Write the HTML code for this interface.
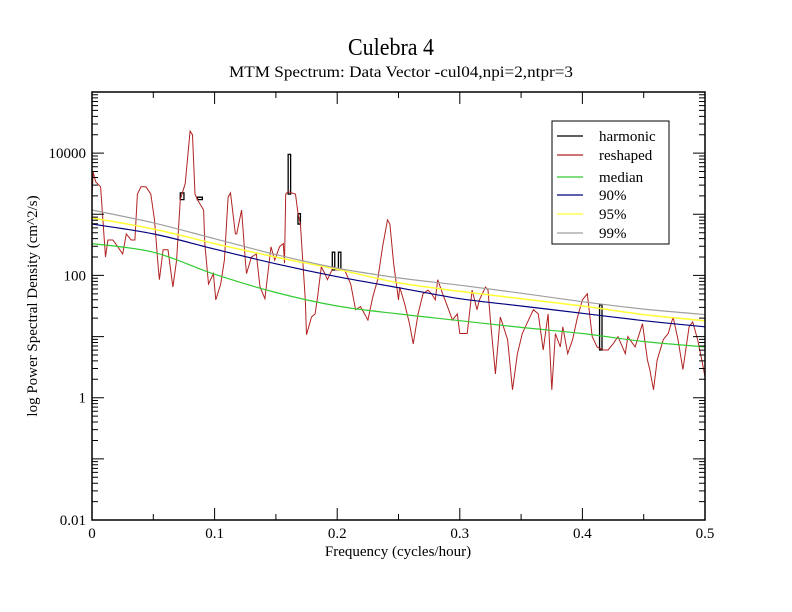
<!DOCTYPE html>
<html><head><meta charset="utf-8"><style>
body{margin:0;background:#fff;}
svg{display:block;font-family:"Liberation Serif",serif;}
</style></head><body>
<svg id="chart" width="792" height="612" viewBox="0 0 792 612">
<rect x="0" y="0" width="792" height="612" fill="#fff"/>
<text x="391" y="55" font-size="24" text-anchor="middle" textLength="86" lengthAdjust="spacingAndGlyphs">Culebra 4</text>
<text x="401" y="77" font-size="16" text-anchor="middle" textLength="344" lengthAdjust="spacingAndGlyphs">MTM Spectrum: Data Vector -cul04,npi=2,ntpr=3</text>
<text x="398" y="556" font-size="15" text-anchor="middle">Frequency (cycles/hour)</text>
<text x="37" y="306" font-size="15" text-anchor="middle" transform="rotate(-90 37 306)">log Power Spectral Density (cm^2/s)</text>
<g id="plot"></g>
<g id="axes"></g>
<g id="legend">
<rect x="552" y="121" width="117" height="123" fill="#fff" stroke="#000" stroke-width="1"/>
</g>
</svg>
<script>
// ---- data ----
const freq = [0.000,0.001,0.003,0.007,0.011,0.013,0.017,0.021,0.025,0.028,0.032,0.035,0.037,0.040,0.044,0.048,0.051,0.054,0.055,0.058,0.062,0.066,0.069,0.072,0.076,0.080,0.082,0.084,0.086,0.091,0.092,0.095,0.099,0.101,0.105,0.108,0.111,0.113,0.117,0.118,0.122,0.125,0.126,0.130,0.134,0.137,0.141,0.146,0.149,0.153,0.156,0.157,0.158,0.160,0.166,0.168,0.170,0.174,0.175,0.179,0.182,0.184,0.187,0.190,0.192,0.197,0.199,0.206,0.211,0.215,0.219,0.225,0.229,0.233,0.237,0.241,0.243,0.246,0.250,0.251,0.255,0.259,0.262,0.266,0.270,0.274,0.277,0.280,0.282,0.286,0.290,0.294,0.298,0.300,0.306,0.310,0.314,0.316,0.321,0.323,0.325,0.329,0.333,0.339,0.343,0.347,0.351,0.356,0.360,0.364,0.368,0.372,0.375,0.378,0.382,0.384,0.388,0.392,0.396,0.400,0.404,0.408,0.412,0.417,0.421,0.425,0.429,0.435,0.437,0.443,0.449,0.453,0.455,0.458,0.461,0.466,0.470,0.474,0.478,0.482,0.487,0.490,0.494,0.498,0.500];
const logReshaped = [3.30,3.69,3.53,3.45,2.30,2.58,2.58,2.47,2.35,2.68,2.58,2.58,3.33,3.45,3.45,3.33,2.91,2.14,1.93,2.42,2.42,1.81,2.25,3.24,3.50,4.36,4.30,3.33,3.24,3.07,2.52,1.86,2.03,1.60,1.86,2.25,3.28,3.35,2.68,2.68,3.07,2.25,2.03,2.30,2.35,1.81,1.62,2.47,2.25,2.47,2.52,2.20,3.33,3.37,3.33,3.01,2.84,1.60,1.03,1.32,1.37,1.65,2.14,2.03,1.93,2.14,2.09,2.09,1.86,1.44,1.49,1.27,1.65,1.93,2.47,2.91,2.84,2.20,1.60,1.81,1.54,1.21,0.88,1.37,1.70,1.76,1.70,1.60,1.93,1.70,1.49,1.27,1.37,1.05,1.05,1.76,1.44,1.60,1.81,1.76,1.27,0.39,1.32,0.95,0.13,0.72,1.05,1.27,1.44,1.37,0.78,1.37,0.13,1.05,0.83,1.16,0.72,0.95,1.32,1.60,1.70,1.00,0.83,0.78,0.78,0.88,1.00,0.72,1.00,0.83,1.21,0.62,0.46,0.13,0.62,0.95,1.05,1.32,0.95,0.46,1.16,1.24,0.95,0.56,0.34,0.39];
// harmonic pulses: start freq, end freq, base log, peak log
const harmStart = [0.072,0.086,0.160,0.168,0.196,0.201,0.414];
const harmEnd   = [0.075,0.090,0.162,0.170,0.198,0.203,0.416];
const harmBase  = [3.24,3.24,3.33,2.84,2.09,2.09,0.78];
const harmPeak  = [3.35,3.28,3.98,3.01,2.38,2.38,1.52];
const thrFreq = [0,0.05,0.1,0.15,0.2,0.25,0.3,0.35,0.4,0.45,0.5];
const logMedian = [2.52,2.38,2.02,1.72,1.50,1.37,1.26,1.15,1.05,0.92,0.83];
const log90 = [2.84,2.68,2.43,2.19,1.98,1.80,1.62,1.50,1.38,1.26,1.16];
const log95 = [2.94,2.76,2.52,2.30,2.10,1.88,1.74,1.62,1.50,1.36,1.26];
const log99 = [3.07,2.86,2.60,2.34,2.12,1.96,1.84,1.71,1.57,1.45,1.36];
const xTicks = [0,0.1,0.2,0.3,0.4,0.5];
const xTickLabels = ["0","0.1","0.2","0.3","0.4","0.5"];
const yDecades = [-2,-1,0,1,2,3,4,5];
const yLabelDecades = [-2,0,2,4];
const yTickLabels = ["0.01","1","100","10000"];
const legendNames = ["harmonic","reshaped","median","90%","95%","99%"];
const legendColors = ["#000000","#b22222","#33cc33","#000080","#ffff33","#a0a0a0"];

// ---- axes functions ----
const X0=92,X1=705,Y0=520,Y1=92,LMIN=-2,LMAX=5;
const sx=f=>X0+(f-0)/(0.5-0)*(X1-X0);
const sy=l=>Y0-(l-LMIN)/(LMAX-LMIN)*(Y0-Y1);
const NS='http://www.w3.org/2000/svg';
function mk(tag,attrs,parent){const e=document.createElementNS(NS,tag);for(const k in attrs)e.setAttribute(k,attrs[k]);parent.appendChild(e);return e;}
const plot=document.getElementById('plot'),axes=document.getElementById('axes'),legend=document.getElementById('legend');

function lineD(xs,ys){return xs.map((f,i)=>(i?'L':'M')+sx(f).toFixed(1)+' '+sy(ys[i]).toFixed(1)).join(' ');}
function smoothD(xs,ys){
  const p=xs.map((f,i)=>[sx(f),sy(ys[i])]);let d='M'+p[0][0]+' '+p[0][1];
  for(let i=0;i<p.length-1;i++){const a=p[i-1]||p[i],b=p[i],c=p[i+1],e=p[i+2]||c;
    d+=' C'+(b[0]+(c[0]-a[0])/6).toFixed(1)+' '+(b[1]+(c[1]-a[1])/6).toFixed(1)+' '+(c[0]-(e[0]-b[0])/6).toFixed(1)+' '+(c[1]-(e[1]-b[1])/6).toFixed(1)+' '+c[0].toFixed(1)+' '+c[1].toFixed(1);}
  return d;}

let hd='';
for(let i=0;i<harmStart.length;i++){
  hd+='M'+sx(harmStart[i])+' '+sy(harmBase[i])+' L'+sx(harmStart[i])+' '+sy(harmPeak[i])+' L'+sx(harmEnd[i])+' '+sy(harmPeak[i])+' L'+sx(harmEnd[i])+' '+sy(harmBase[i])+' Z ';
}
const hp=mk('path',{d:hd,fill:'none',stroke:'#000','stroke-width':1.3},plot);


const rp=mk('path',{d:lineD(freq,logReshaped),fill:'none',stroke:'#b22222','stroke-width':1},plot);


const thr=[[logMedian,'#33cc33','median-line'],[log90,'#000080','p90-line'],[log95,'#ffff33','p95-line'],[log99,'#a0a0a0','p99-line']];
thr.forEach(t=>{const e=mk('path',{d:smoothD(thrFreq,t[0]),fill:'none',stroke:t[1],'stroke-width':t[1]==='#ffff33'?1.5:1.2},plot);

});

const fr=mk('rect',{x:X0,y:Y1,width:X1-X0,height:Y0-Y1,fill:'none',stroke:'#000','stroke-width':1.5},axes);


let td='';
for(let f=0;f<=0.5001;f+=0.05){const x=sx(f);const major=Math.abs(f*10-Math.round(f*10))<1e-6;const L=major?12:6;
  td+='M'+x+' '+Y0+' v'+(-L)+' M'+x+' '+Y1+' v'+L+' ';}
yDecades.forEach(d=>{
  const y=sy(d);td+='M'+X0+' '+y+' h12 M'+X1+' '+y+' h-12 ';
  if(d<LMAX)for(let m=2;m<=9;m++){const ym=sy(d+Math.log10(m));td+='M'+X0+' '+ym+' h6 M'+X1+' '+ym+' h-6 ';}
});
const tk=mk('path',{d:td,stroke:'#000','stroke-width':1,fill:'none'},axes);


xTicks.forEach((f,i)=>{const t=mk('text',{x:sx(f),y:Y0+18,'font-size':15,'text-anchor':'middle'},axes);t.textContent=xTickLabels[i];

});
yLabelDecades.forEach((d,i)=>{const t=mk('text',{x:X0-6,y:sy(d)+5,'font-size':15,'text-anchor':'end'},axes);t.textContent=yTickLabels[i];

});

legendNames.forEach((n,i)=>{const y=[136,155,177,195,214,233][i];
  const l=mk('line',{x1:557,x2:583,y1:y,y2:y,stroke:legendColors[i],'stroke-width':1.2},legend);
  
  
  const t=mk('text',{x:599,y:y+5,'font-size':15},legend);t.textContent=n;
  
  });
</script>
</body></html>
